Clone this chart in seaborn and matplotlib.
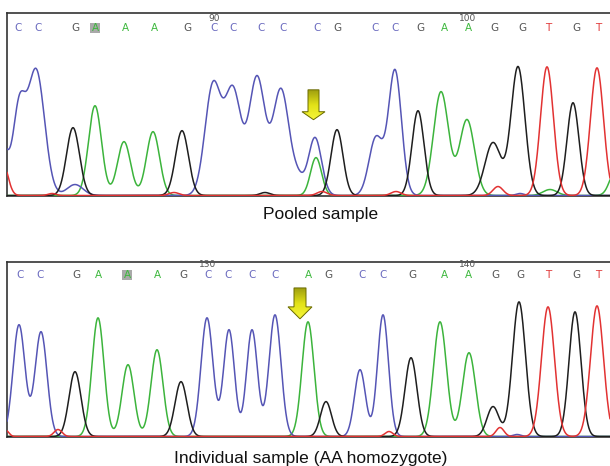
import numpy as np
import matplotlib.pyplot as plt
import matplotlib.patches as mpatches
import seaborn as sns

# base calls and their trace positions
pooled_calls = list("CCGAAAGCCCCCGCCGAAGGTGT")
pooled_call_x = [18, 38, 75, 95, 125, 154, 187, 214, 233, 261, 283, 317, 337,
                 375, 395, 420, 444, 468, 494, 522, 548, 576, 598]
pooled_ticks = [90, 100]
pooled_tick_idx = [7, 17]
pooled_boxed = 3

indiv_calls = list("CCGAAAGCCCCAGCCGAAGGTGT")
indiv_call_x = [20, 40, 76, 98, 127, 157, 183, 208, 228, 252, 275, 308, 328,
                362, 383, 412, 444, 468, 495, 520, 548, 576, 598]
indiv_ticks = [130, 140]
indiv_tick_idx = [7, 17]
indiv_boxed = 4

# peaks (position, height, width) per dye
pooled_C = [(2, 50, 6), (19, 82, 6), (36, 126, 8.5), (75, 11, 8), (213, 110, 8),
            (233, 104, 8), (257, 118, 8), (281, 106, 8), (298, 15, 6),
            (315, 58, 6.5), (376, 58, 7), (395, 125, 6.5), (520, 2, 4)]
pooled_A = [(95, 90, 6.5), (124, 54, 6.5), (153, 64, 6.5), (316, 38, 5.5),
            (441, 104, 7.5), (467, 76, 7.5), (550, 6, 7), (616, 26, 6)]
pooled_G = [(73, 68, 6.5), (182, 65, 6.5), (265, 3, 5), (337, 66, 6),
            (418, 85, 6), (493, 53, 8), (518, 129, 7), (573, 93, 6)]
pooled_T = [(3, 32, 5), (52, 2, 4), (174, 3, 5), (322, 4, 5), (396, 4, 5),
            (498, 9, 5), (547, 129, 6.5), (597, 128, 6.5)]

indiv_C = [(19, 112, 6), (41, 105, 6), (207, 119, 6), (229, 107, 5.5),
           (252, 107, 5.5), (275, 122, 6), (360, 67, 5.5), (383, 122, 5.5),
           (517, 2, 4)]
indiv_A = [(98, 119, 6), (128, 72, 6), (157, 87, 6), (308, 115, 6),
           (440, 115, 6.5), (469, 84, 6.5)]
indiv_G = [(75, 65, 6), (181, 55, 6), (326, 35, 5.5), (411, 79, 6),
           (493, 30, 6), (519, 135, 6.5), (575, 125, 6)]
indiv_T = [(6, 6, 3), (58, 7, 4), (389, 5, 4), (500, 9, 4), (548, 130, 6.5),
           (597, 131, 6.5)]

trace_colors = {"C": "#5555b5", "A": "#3cb43c", "G": "#1e1e1e", "T": "#e23232"}
call_colors = {"C": "#6b6bbf", "A": "#3db83d", "G": "#555555", "T": "#e03a3a"}

sns.set_theme(style="white")
plt.rcParams["font.family"] = ["Liberation Sans", "DejaVu Sans"]

W, H = 610, 466
fig = plt.figure(figsize=(W / 100, H / 100), dpi=100)

xs = np.linspace(7, 610, 1800)


def trace(peaks):
    y = np.zeros_like(xs)
    for x0, h, w in peaks:
        y += h * np.exp(-0.5 * ((xs - x0) / w) ** 2)
    return y


def draw_arrow(ax, xc, top, head, tip, shaft_w, head_w):
    verts = [(xc - shaft_w / 2, top), (xc + shaft_w / 2, top),
             (xc + shaft_w / 2, head), (xc + head_w / 2, head),
             (xc, tip), (xc - head_w / 2, head), (xc - shaft_w / 2, head),
             (xc - shaft_w / 2, top)]
    poly = mpatches.Polygon(verts, closed=True, facecolor="none",
                            edgecolor="#6a6a00", lw=0.7, zorder=6)
    ax.add_patch(poly)
    grad = np.linspace(0, 1, 64).reshape(-1, 1)
    cmap = sns.blend_palette(["#f6f63a", "#e2e218", "#a0a010"], as_cmap=True)
    im = ax.imshow(grad, cmap=cmap, aspect="auto", origin="lower",
                   extent=(xc - head_w / 2, xc + head_w / 2, tip, top), zorder=5)
    im.set_clip_path(poly)


def panel(rect, ymax, calls, call_x, ticks, tick_idx, boxed, peaks, call_y, tick_y,
          arrow):
    ax = fig.add_axes(rect)
    for base, pk in peaks.items():
        sns.lineplot(x=xs, y=trace(pk), color=trace_colors[base], lw=1.1,
                     ax=ax, zorder=3)
    for i, (b, x) in enumerate(zip(calls, call_x)):
        if i == boxed:
            ax.add_patch(mpatches.Rectangle((x - 5, call_y - 5), 10, 10,
                                            facecolor="#a9a9a9", edgecolor="none",
                                            zorder=2))
        ax.text(x, call_y, b, ha="center", va="center", fontsize=7.5,
                color=call_colors[b], family="DejaVu Sans", zorder=4)
    for t, i in zip(ticks, tick_idx):
        ax.text(call_x[i], tick_y, str(t), ha="center", va="center", fontsize=6.5,
                color="#555555", family="DejaVu Sans", zorder=4)
    draw_arrow(ax, *arrow)
    ax.set_xlim(7, 610)
    ax.set_ylim(-0.5, ymax)
    ax.set_xticks([])
    ax.set_yticks([])
    ax.set_xlabel("")
    ax.set_ylabel("")
    ax.spines["right"].set_visible(False)
    for s in ["top", "left", "bottom"]:
        ax.spines[s].set_color("#333333")
        ax.spines[s].set_linewidth(1.2)
    return ax


panel([7 / W, (H - 196) / H, 603 / W, 183 / H], 183,
      pooled_calls, pooled_call_x, pooled_ticks, pooled_tick_idx, pooled_boxed,
      {"A": pooled_A, "C": pooled_C, "G": pooled_G, "T": pooled_T},
      168, 177, (313.5, 106, 84, 76, 11, 23))

panel([7 / W, (H - 437) / H, 603 / W, 175 / H], 175,
      indiv_calls, indiv_call_x, indiv_ticks, indiv_tick_idx, indiv_boxed,
      {"A": indiv_A, "C": indiv_C, "G": indiv_G, "T": indiv_T},
      162, 172, (300, 149, 130, 118, 12, 24))

fig.text(321 / W, 1 - 215 / H, "Pooled sample", ha="center", va="center",
         fontsize=12.5, color="#111111")
fig.text(311 / W, 1 - 458 / H, "Individual sample (AA homozygote)", ha="center",
         va="center", fontsize=12.5, color="#111111")

fig.savefig("out.png", dpi=100)
